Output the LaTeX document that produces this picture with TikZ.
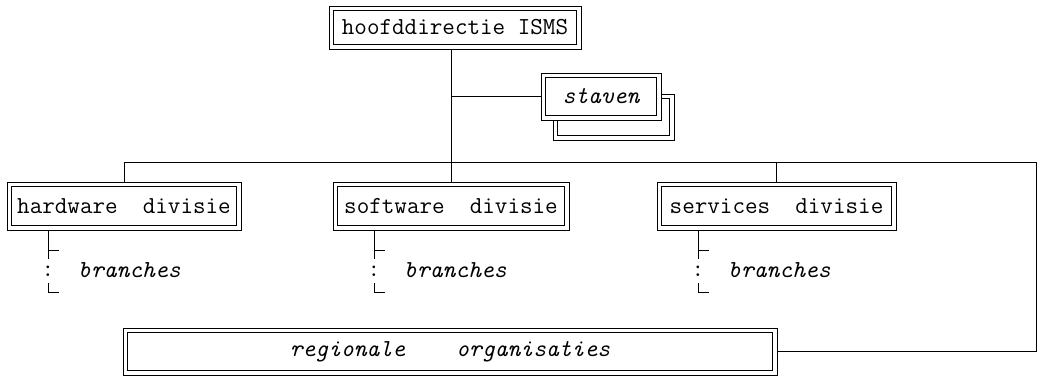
\documentclass[tikz,border=0pt]{standalone}
\usepackage{fontspec}
\usetikzlibrary{calc}
\tikzset{
  mono/.style={font=\ttfamily\fontsize{24.4bp}{27bp}\selectfont},
  dbox/.style={mono, draw=black, fill=white, line width=0.8bp,
    inner sep=0pt, outer sep=0pt},
  wire/.style={draw=black, line width=0.8bp},
  tag/.style={mono, inner sep=0pt},
}
% inner line of a double-framed box
\newcommand{\innerframe}[1]{%
  \draw[wire] ([shift={(4.6bp,4.6bp)}]#1.south west) rectangle
    ([shift={(-4.6bp,-4.6bp)}]#1.north east);}
% branch marker below a division box: tick, colon, corner and label
\newcommand{\branchmark}[2]{%
  \coordinate (#2) at ([xshift=41bp]#1.south west);
  \draw[wire] (#2) -- ++(0,29);
  \draw[wire] ($(#2)+(0,20)$) -- ++(11,0);
  \node[tag] (#2c) at ($(#2)+(0,41)$) {:};
  \draw[wire] ($(#2)+(0,53)$) -- ++(0,9) -- ++(11,0);
  \node[tag, anchor=west] (#2t) at ($(#2)+(30,40)$) {\itshape branches};
}
\begin{document}
\begin{tikzpicture}[x=1bp, y=-1bp]
\useasboundingbox (0,0) rectangle (1040,377);

% head office and staff
\node[dbox, minimum width=252bp, minimum height=43bp] (top) at (455,27.5) {hoofddirectie ISMS};
\innerframe{top}
\node[dbox, minimum width=121bp, minimum height=46bp] (stafs) at (613.5,117) {};
\innerframe{stafs}
\node[dbox, minimum width=120bp, minimum height=47bp] (staf) at (601,96.5) {\itshape staven};
\innerframe{staf}

% divisions
\node[dbox, minimum width=234bp, minimum height=48bp] (hw) at (124,206) {hardware\ \ divisie};
\innerframe{hw}
\node[dbox, minimum width=236bp, minimum height=48bp] (sw) at (451,206) {software\ \ divisie};
\innerframe{sw}
\node[dbox, minimum width=239bp, minimum height=48bp] (sv) at (776.5,206) {services\ \ divisie};
\innerframe{sv}

% regional organisations
\node[dbox, minimum width=654bp, minimum height=47bp] (reg) at (450,351.5) {\itshape regionale\ \ \ \ organisaties};
\innerframe{reg}

% connectors
\coordinate (busR) at (1036,162);
\draw[wire] (top.south -| sw.north) -- (sw.north);
\draw[wire] (sw.north |- staf.west) -- (staf.west);
\draw[wire] (hw.north) |- (busR) |- (reg.east);
\draw[wire] (sv.north) -- (sv.north |- busR);

% branches
\branchmark{hw}{hwb}
\branchmark{sw}{swb}
\branchmark{sv}{svb}
\end{tikzpicture}
\end{document}
